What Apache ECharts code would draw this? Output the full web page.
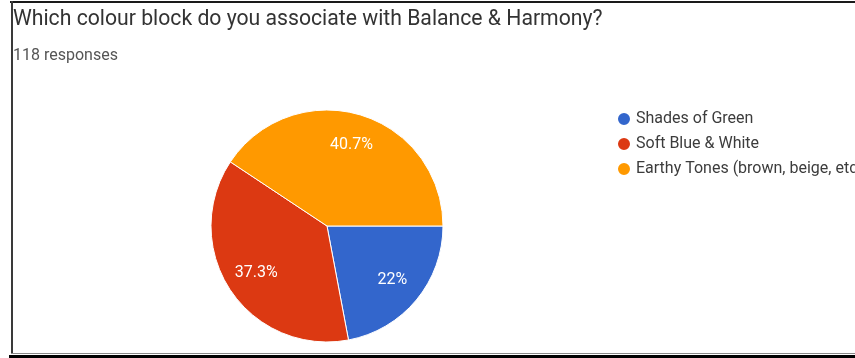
<!DOCTYPE html>
<html>
<head>
<meta charset="utf-8">
<script src="https://cdn.jsdelivr.net/npm/echarts@6/dist/echarts.min.js"></script>
<style>
  html, body { margin: 0; padding: 0; background: #fff; }
  #chart { position: absolute; left: 0; top: 0; width: 855px; height: 358px; }
  .frame { position: absolute; pointer-events: none; }
  #frameTop { left: 10px; right: 0; top: 1px; height: 2px; background: #1a1a1a; }
  #frameLeft { left: 11px; top: 1px; width: 2px; height: 353px; background: #3a3a3a; }
  #frameInner { left: 11px; right: 0; top: 353px; height: 1px; background: #8a8a8a; }
  #frameBottom { left: 9px; right: 0; top: 355px; height: 3px; background: #000; }
</style>
</head>
<body>
<div id="chart"></div>
<div class="frame" id="frameTop"></div>
<div class="frame" id="frameLeft"></div>
<div class="frame" id="frameInner"></div>
<div class="frame" id="frameBottom"></div>
<script>
// Survey answers (118 responses in total)
const questionText = 'Which colour block do you associate with Balance & Harmony?';
const responseNote = '118 responses';
const categories = ['Shades of Green', 'Soft Blue & White', 'Earthy Tones (brown, beige, etc.)'];
const counts = [26, 44, 48];
const sliceColors = ['#3366cc', '#dc3912', '#ff9900'];

const fontFamily = 'Roboto, "Noto Sans", Arial, sans-serif';

const pieData = categories.map((name, i) => ({
  name: name,
  value: counts[i],
  itemStyle: { color: sliceColors[i] }
}));

// Percent text like "40.7%" / "22%"
function pctLabel(p) {
  return parseFloat(p.percent.toFixed(1)) + '%';
}

const chart = echarts.init(document.getElementById('chart'), null, { renderer: 'canvas' });

chart.setOption({
  animation: false,
  backgroundColor: '#ffffff',
  title: [
    {
      text: questionText,
      left: 13,
      top: 9,
      padding: 0,
      textStyle: { fontFamily: fontFamily, fontSize: 21.2, fontWeight: 'normal', color: '#333333' }
    },
    {
      text: responseNote,
      left: 13,
      top: 48,
      padding: 0,
      textStyle: { fontFamily: fontFamily, fontSize: 16, fontWeight: 'normal', color: '#555555' }
    }
  ],
  legend: {
    orient: 'vertical',
    left: 616,
    top: 111,
    padding: 0,
    itemWidth: 14,
    itemHeight: 14,
    itemGap: 9,
    icon: 'circle',
    selectedMode: false,
    data: categories,
    textStyle: { fontFamily: fontFamily, fontSize: 16, color: '#3c3c3c' }
  },
  series: [
    {
      // the pie itself
      type: 'pie',
      center: [327, 226],
      radius: [0, 116],
      startAngle: 0,
      clockwise: true,
      percentPrecision: 1,
      avoidLabelOverlap: false,
      label: { show: false },
      labelLine: { show: false },
      emphasis: { disabled: true },
      itemStyle: { borderColor: '#ffffff', borderWidth: 1 },
      data: pieData
    },
    {
      // invisible wider ring that carries the percent labels a bit further out
      type: 'pie',
      center: [327, 226],
      radius: [0, 164],
      startAngle: 0,
      clockwise: true,
      percentPrecision: 1,
      silent: true,
      avoidLabelOverlap: false,
      emphasis: { disabled: true },
      itemStyle: { color: 'rgba(0,0,0,0)', borderWidth: 0 },
      label: {
        show: true,
        position: 'inside',
        formatter: pctLabel,
        fontFamily: fontFamily,
        fontSize: 16,
        color: '#ffffff'
      },
      labelLine: { show: false },
      data: categories.map((name, i) => ({ name: name, value: counts[i] }))
    }
  ]
});
</script>
</body>
</html>
